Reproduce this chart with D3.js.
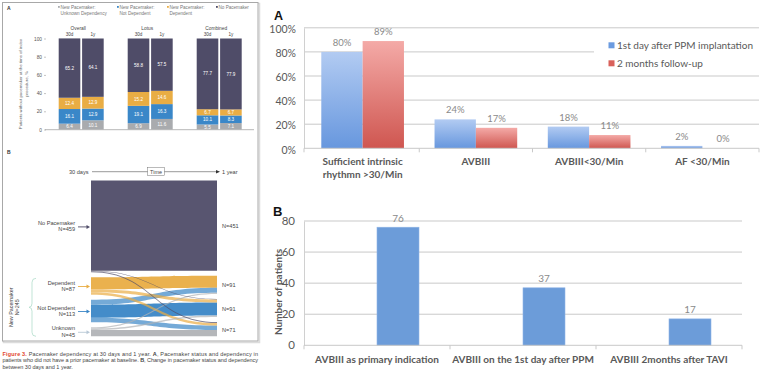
<!DOCTYPE html>
<html><head><meta charset="utf-8">
<script src="https://cdnjs.cloudflare.com/ajax/libs/d3/7.8.5/d3.min.js"></script>
<style>
body{margin:0;background:#fff;}
svg{display:block;}
</style></head>
<body>
<svg id="c" width="764" height="380"></svg>
<script>
// ---------- DATA: left figure, panel A (stacked %) ----------
const groups = ["Overall", "Lotus", "Combined"];
const periods = ["30d", "1y"];
const unknownVals = [6.4, 10.1, 6.9, 11.6, 5.5, 7.1];
const notDepVals  = [16.1, 12.9, 19.1, 16.3, 10.1, 8.3];
const depVals     = [12.4, 12.9, 15.2, 14.6, 6.7, 6.7];
const noPmVals    = [65.2, 64.1, 58.8, 57.5, 77.7, 77.9];
const leftTicks = [0, 20, 40, 60, 80, 100];
const legendLines = [["New Pacemaker:", "Unknown Dependency"], ["New Pacemaker:", "Not Dependent"], ["New Pacemaker:", "Dependent"], ["No Pacemaker"]];

// ---------- DATA: left figure, panel B (flows) ----------
const states = ["No Pacemaker", "Dependent", "Not Dependent", "Unknown"];
const count30d = [459, 87, 113, 45];
const count1y  = [451, 91, 91, 71];
const flowFromNoPm   = [451, 0, 3, 5];
const flowFromDep    = [0, 60, 15, 12];
const flowFromNotDep = [0, 25, 65, 23];
const flowFromUnk    = [0, 6, 8, 31];

// ---------- DATA: right chart A ----------
const catA = [["Sufficient intrinsic", "rhythmn >30/Min"], ["AVBIII"], ["AVBIII<30/Min"], ["AF <30/Min"]];
const seriesA = ["1st day after PPM implantation", "2 months follow-up"];
const day1Vals = [80, 24, 18, 2];
const month2Vals = [89, 17, 11, 0];
const ticksA = [0, 20, 40, 60, 80, 100];

// ---------- DATA: right chart B ----------
const catB = ["AVBIII as primary indication", "AVBIII on the 1st day after PPM", "AVBIII 2months after TAVI"];
const patientsB = [76, 37, 17];
const ticksB = [0, 20, 40, 60, 80];

const svg = d3.select("#c");
const SANS = "'Liberation Sans', Arial, sans-serif";
const CAL = "Lato, 'Open Sans', sans-serif";

// ================= LEFT FIGURE =================
const L = svg.append("g");
L.append("rect").attr("x", 3.5).attr("y", 3.5).attr("width", 256).attr("height", 339).attr("fill", "none").attr("stroke", "#dcdcdc").attr("stroke-width", 1.5);
L.append("rect").attr("x", 2.5).attr("y", 2.5).attr("width", 255.5).attr("height", 338.5).attr("fill", "#fff").attr("stroke", "#a8a8a8").attr("stroke-width", 1);

const colStatus = ["#a9abae", "#3a87c8", "#e9ad44", "#4f4c68"];
L.append("text").attr("x", 7).attr("y", 10).attr("font-family", SANS).attr("font-size", 5).attr("font-weight", "bold").attr("fill", "#333").text("A");

// legend
const legX = [58, 117, 167, 216];
legendLines.forEach((lines, i) => {
  L.append("rect").attr("x", legX[i]).attr("y", 6).attr("width", 1.8).attr("height", 1.8).attr("fill", colStatus[i]);
  lines.forEach((t, j) => {
    L.append("text").attr("x", legX[i] + 2.5).attr("y", 8.5 + j * 6).attr("font-family", SANS).attr("font-size", 4.6).attr("fill", "#777").text(t);
  });
});

const yL = d3.scaleLinear().domain([0, 100]).range([129.5, 38.5]);
const gX = d3.scaleBand().domain(groups).range([46.7, 253.7]);
const pX = d3.scaleBand().domain(periods).range([12, 57]).paddingInner(0.077);

// y axis
const axL = L.append("g").attr("transform", "translate(46,0)").call(d3.axisLeft(yL).tickValues(leftTicks).tickSize(2).tickPadding(2));
axL.select(".domain").remove();
axL.selectAll("line").attr("stroke", "#888").attr("stroke-width", 0.5);
axL.selectAll("text").attr("font-family", SANS).attr("font-size", 4.8).attr("fill", "#555");
L.append("line").attr("x1", 45).attr("x2", 254).attr("y1", 129.7).attr("y2", 129.7).attr("stroke", "#888").attr("stroke-width", 0.6);

// y title
const yt = L.append("text").attr("transform", "translate(22,84) rotate(-90)").attr("text-anchor", "middle").attr("font-family", SANS).attr("font-size", 4.3).attr("fill", "#666");
yt.append("tspan").attr("x", 0).attr("dy", 0).text("Patients without pacemaker at the time of index");
yt.append("tspan").attr("x", 0).attr("dy", 5.5).text("procedure, %");

const stackRows = [];
groups.forEach((g, gi) => periods.forEach((p, pi) => {
  const k = gi * 2 + pi;
  stackRows.push({ g, p, Unknown: unknownVals[k], NotDep: notDepVals[k], Dep: depVals[k], NoPM: noPmVals[k] });
}));
const keys = ["Unknown", "NotDep", "Dep", "NoPM"];
const stacked = d3.stack().keys(keys)(stackRows);
stacked.forEach((layer, li) => {
  layer.forEach(d => {
    const x = gX(d.data.g) + pX(d.data.p);
    L.append("rect").attr("x", x).attr("y", yL(d[1])).attr("width", pX.bandwidth()).attr("height", yL(d[0]) - yL(d[1])).attr("fill", colStatus[li]);
    L.append("text").attr("x", x + pX.bandwidth() / 2).attr("y", (yL(d[0]) + yL(d[1])) / 2 + 1.6).attr("text-anchor", "middle")
      .attr("font-family", SANS).attr("font-size", 4.6).attr("fill", "#fff").text(d3.format(".1f")(d[1] - d[0]));
  });
});
groups.forEach(g => {
  L.append("text").attr("x", gX(g) + gX.bandwidth() / 2 - 3).attr("y", 29.5).attr("text-anchor", "middle").attr("font-family", SANS).attr("font-size", 4.8).attr("fill", "#444").text(g);
  periods.forEach(p => {
    L.append("text").attr("x", gX(g) + pX(p) + pX.bandwidth() / 2).attr("y", 36).attr("text-anchor", "middle").attr("font-family", SANS).attr("font-size", 4.6).attr("fill", "#444").text(p);
  });
});

// ---------- panel B flows ----------
L.append("text").attr("x", 7).attr("y", 154).attr("font-family", SANS).attr("font-size", 5).attr("font-weight", "bold").attr("fill", "#333").text("B");
// time arrow
L.append("text").attr("x", 88.5).attr("y", 173.5).attr("text-anchor", "end").attr("font-family", SANS).attr("font-size", 5.6).attr("fill", "#444").text("30 days");
L.append("line").attr("x1", 92).attr("x2", 217).attr("y1", 171.7).attr("y2", 171.7).attr("stroke", "#555").attr("stroke-width", 0.6);
L.append("path").attr("d", "M216,169.9 L220,171.7 L216,173.5 Z").attr("fill", "#333");
L.append("rect").attr("x", 147.7).attr("y", 167.5).attr("width", 16.6).attr("height", 8.2).attr("fill", "#fff").attr("stroke", "#777").attr("stroke-width", 0.5);
L.append("text").attr("x", 156).attr("y", 173.6).attr("text-anchor", "middle").attr("font-family", SANS).attr("font-size", 5.4).attr("fill", "#444").text("Time");
L.append("text").attr("x", 222).attr("y", 173.5).attr("font-family", SANS).attr("font-size", 5.6).attr("fill", "#444").text("1 year");

const flows = [flowFromNoPm, flowFromDep, flowFromNotDep, flowFromUnk];
const kScale = d3.scaleLinear().domain([0, 1]).range([0, 0.2]);
const gap = 5, top0 = 180.5, xa = 91, xb = 217;
function nodeTops(counts) { const t = []; let y = top0; counts.forEach(c => { t.push(y); y += kScale(c) + gap; }); return t; }
const lTop = nodeTops(count30d), rTop = nodeTops(count1y);
const sOff = lTop.slice();
const links = [];
flows.forEach((row, s) => row.forEach((v, t) => {
  if (!v) return;
  const h = kScale(v);
  links.push({ s, t, h, y0: sOff[s], y1: 0 });
  sOff[s] += h;
}));
const tCursor = rTop.slice();
for (let t = 0; t < 4; t++) links.filter(l => l.t === t).sort((a, b) => a.s - b.s).forEach(l => { l.y1 = tCursor[t]; tCursor[t] += l.h; });
const colNode = ["#4f4c68", "#e9ad44", "#3a86c6", "#b1b3b6"];
function band(l) {
  const xm = (xa + xb) / 2;
  return `M${xa},${l.y0} C${xm},${l.y0} ${xm},${l.y1} ${xb},${l.y1} L${xb},${l.y1 + l.h} C${xm},${l.y1 + l.h} ${xm},${l.y0 + l.h} ${xa},${l.y0 + l.h} Z`;
}
links.filter(l => l.s === l.t).forEach(l => L.append("path").attr("d", band(l)).attr("fill", colNode[l.s]).attr("fill-opacity", 0.95));
links.filter(l => l.s !== l.t).sort((a, b) => b.h - a.h).forEach(l => L.append("path").attr("d", band(l)).attr("fill", colNode[l.s]).attr("fill-opacity", 0.7));

// left labels
const arrowCol = ["#4f4c68", "#e9ad44", "#3a86c6", "#b8c8d6"];
states.forEach((st, i) => {
  const cy = lTop[i] + kScale(count30d[i]) / 2;
  L.append("text").attr("x", 75).attr("y", cy - 1.5).attr("text-anchor", "end").attr("font-family", SANS).attr("font-size", 5.6).attr("fill", "#444").text(st);
  L.append("text").attr("x", 75).attr("y", cy + 5).attr("text-anchor", "end").attr("font-family", SANS).attr("font-size", 5.6).attr("fill", "#444").text("N=" + count30d[i]);
  L.append("line").attr("x1", 78).attr("x2", 87).attr("y1", cy + 0.5).attr("y2", cy + 0.5).attr("stroke", arrowCol[i]).attr("stroke-width", 0.9);
  L.append("path").attr("d", `M86.5,${cy - 1.5} L90,${cy + 0.5} L86.5,${cy + 2.5} Z`).attr("fill", arrowCol[i]);
  const ry = rTop[i] + kScale(count1y[i]) / 2;
  L.append("text").attr("x", 222).attr("y", ry + 2.5).attr("font-family", SANS).attr("font-size", 5.6).attr("fill", "#444").text("N=" + count1y[i]);
});
// brace
const b0 = lTop[1] + 1, b1 = lTop[3] + kScale(count30d[3]), bm = (b0 + b1) / 2;
L.append("path").attr("d", `M36,${b0} Q32,${b0} 32,${b0 + 4} L32,${bm - 4} Q32,${bm} 29,${bm} Q32,${bm} 32,${bm + 4} L32,${b1 - 4} Q32,${b1} 36,${b1}`)
  .attr("fill", "none").attr("stroke", "#a6d8c4").attr("stroke-width", 0.7);
const nt = L.append("text").attr("transform", `translate(13,${bm}) rotate(-90)`).attr("text-anchor", "middle").attr("font-family", SANS).attr("font-size", 5.4).attr("fill", "#444");
nt.append("tspan").attr("x", 0).text("New Pacemaker");
nt.append("tspan").attr("x", 0).attr("dy", 6).text("N=" + d3.sum(count30d.slice(1)));

// caption
const cap = [
  [["Figure 3.", "#e2462c", "bold"], [" Pacemaker dependency at 30 days and 1 year. ", "#444", "normal"], ["A", "#444", "bold"], [", Pacemaker status and dependency in", "#444", "normal"]],
  [["patients who did not have a prior pacemaker at baseline. ", "#444", "normal"], ["B", "#444", "bold"], [", Change in pacemaker status and dependency", "#444", "normal"]],
  [["between 30 days and 1 year.", "#444", "normal"]]
];
cap.forEach((line, i) => {
  const t = L.append("text").attr("x", 2.5).attr("y", 356 + i * 6.3).attr("font-family", SANS).attr("font-size", 5.5);
  line.forEach(([s, c, w]) => t.append("tspan").attr("fill", c).attr("font-weight", w).text(s));
  if (i < 2) t.attr("textLength", 255.5).attr("lengthAdjust", "spacing");
});

// ================= RIGHT CHART A =================
const A = svg.append("g");
A.append("text").attr("x", 274).attr("y", 19.5).attr("font-family", SANS).attr("font-size", 12.5).attr("font-weight", "bold").attr("fill", "#111").text("A");
const yA = d3.scaleLinear().domain([0, 100]).range([148.3, 27.8]);
const xA = d3.scaleBand().domain(d3.range(catA.length)).range([306, 759]);
const xAin = d3.scaleBand().domain([0, 1]).range([0, xA.bandwidth()]).paddingOuter(0.37);
A.selectAll(".gA").data(ticksA.slice(1)).join("line").attr("x1", 304).attr("x2", 759).attr("y1", d => yA(d)).attr("y2", d => yA(d)).attr("stroke", "#c9c9c9").attr("stroke-width", 1);
const axA = A.append("g").attr("transform", "translate(304,0)").call(d3.axisLeft(yA).tickValues(ticksA).tickFormat(d => d + "%").tickSize(0).tickPadding(8));
axA.select(".domain").attr("stroke", "#d0d0d0");
axA.selectAll("text").attr("font-family", CAL).attr("font-size", 10.5).attr("fill", "#595959").attr("dy", "0.45em");
const defs = svg.append("defs");
function grad(id, c0, c1) {
  const g = defs.append("linearGradient").attr("id", id).attr("x1", 0).attr("x2", 0).attr("y1", 0).attr("y2", 1);
  g.append("stop").attr("offset", 0).attr("stop-color", c0);
  g.append("stop").attr("offset", 1).attr("stop-color", c1);
}
grad("gb", "#b2cbf2", "#6797de");
grad("gr", "#f4aaa7", "#cf5650");
const fillA = ["url(#gb)", "url(#gr)"];
const valsA = [day1Vals, month2Vals];
valsA.forEach((vals, si) => {
  vals.forEach((v, ci) => {
    const x = xA(ci) + xAin(si);
    A.append("rect").attr("x", x).attr("y", yA(v)).attr("width", xAin.bandwidth()).attr("height", yA(0) - yA(v)).attr("fill", fillA[si]);
    A.append("text").attr("x", x + xAin.bandwidth() / 2).attr("y", yA(v) - 6).attr("text-anchor", "middle").attr("font-family", CAL).attr("font-size", 9.5).attr("fill", "#8a8a8a").text(v + "%");
  });
});
A.append("line").attr("x1", 304).attr("x2", 759).attr("y1", yA(0)).attr("y2", yA(0)).attr("stroke", "#c9c9c9");
[304].concat(d3.range(catA.length).map(i => xA(i) + xA.bandwidth())).forEach(x => {
  A.append("line").attr("x1", x).attr("x2", x).attr("y1", yA(0)).attr("y2", yA(0) + 4).attr("stroke", "#c9c9c9");
});
catA.forEach((lines, ci) => {
  const t = A.append("text").attr("text-anchor", "middle").attr("font-family", CAL).attr("font-size", 10).attr("font-weight", "bold").attr("fill", "#595959");
  lines.forEach((s, j) => t.append("tspan").attr("x", xA(ci) + xA.bandwidth() / 2).attr("y", 165 + j * 12.5).text(s));
});
A.append("rect").attr("x", 594).attr("y", 34).attr("width", 166).attr("height", 34).attr("fill", "#fff");
seriesA.forEach((s, i) => {
  A.append("rect").attr("x", 608.5).attr("y", 42.3 + i * 18).attr("width", 6).attr("height", 6).attr("fill", i ? "#d9615b" : "#6b9be0");
  A.append("text").attr("x", 617).attr("y", 48.5 + i * 18).attr("font-family", CAL).attr("font-size", 10).attr("fill", "#595959").text(s);
});

// ================= RIGHT CHART B =================
const B = svg.append("g");
B.append("text").attr("x", 273).attr("y", 216).attr("font-family", SANS).attr("font-size", 13).attr("font-weight", "bold").attr("fill", "#111").text("B");
const yB = d3.scaleLinear().domain([0, 80]).range([345.3, 221]);
const xB = d3.scaleBand().domain(catB).range([304, 742]);
B.selectAll(".gB").data(ticksB.slice(1)).join("line").attr("x1", 304).attr("x2", 742).attr("y1", d => yB(d)).attr("y2", d => yB(d)).attr("stroke", "#c9c9c9");
const axB = B.append("g").attr("transform", "translate(304,0)").call(d3.axisLeft(yB).tickValues(ticksB).tickSize(0).tickPadding(9));
axB.select(".domain").attr("stroke", "#d0d0d0");
axB.selectAll("text").attr("font-family", CAL).attr("font-size", 11.5).attr("fill", "#595959");
B.append("text").attr("transform", "translate(282,292) rotate(-90)").attr("text-anchor", "middle").attr("font-family", CAL).attr("font-size", 10).attr("font-weight", "bold").attr("fill", "#595959").text("Number of patients");
const barW = 42, barShift = 21;
patientsB.forEach((v, i) => {
  const cx = xB(catB[i]) + xB.bandwidth() / 2 + barShift;
  B.append("rect").attr("x", cx - barW / 2).attr("y", yB(v)).attr("width", barW).attr("height", yB(0) - yB(v)).attr("fill", "#6c9cd9").attr("stroke", "#8fb4e6").attr("stroke-width", 0.6);
  B.append("text").attr("x", cx).attr("y", yB(v) - 5.5).attr("text-anchor", "middle").attr("font-family", CAL).attr("font-size", 10).attr("fill", "#8a8a8a").text(v);
  B.append("text").attr("x", xB(catB[i]) + xB.bandwidth() / 2).attr("y", 363).attr("text-anchor", "middle").attr("font-family", CAL).attr("font-size", 10).attr("font-weight", "bold").attr("fill", "#595959").text(catB[i]);
});
B.append("line").attr("x1", 304).attr("x2", 742).attr("y1", yB(0)).attr("y2", yB(0)).attr("stroke", "#c9c9c9");
[304].concat(catB.map(c => xB(c) + xB.bandwidth())).forEach(x => {
  B.append("line").attr("x1", x).attr("x2", x).attr("y1", yB(0)).attr("y2", yB(0) + 4).attr("stroke", "#c9c9c9");
});
</script>
</body></html>
